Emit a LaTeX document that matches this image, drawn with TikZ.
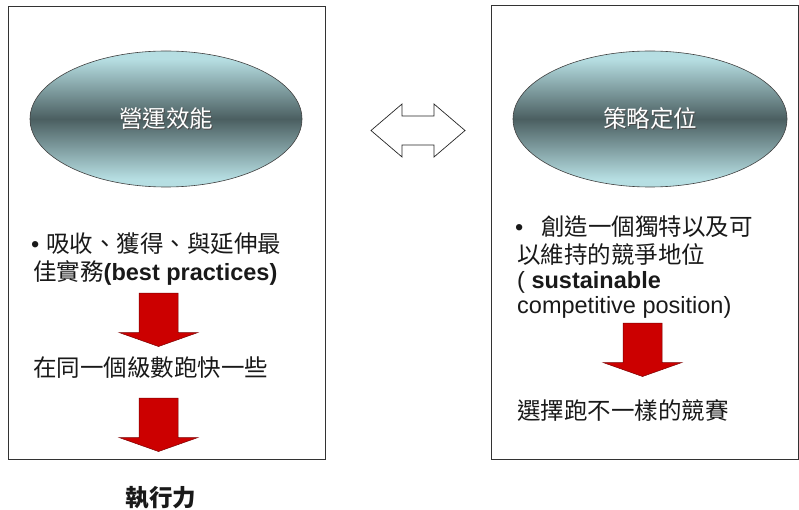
\documentclass[tikz,border=0pt]{standalone}
\usepackage{fontspec}
\setmainfont{Liberation Sans}
\newfontfamily\cjk{Noto Sans CJK TC}
\usetikzlibrary{shapes.geometric}
\definecolor{capsule}{HTML}{B6DEE2}
\definecolor{capsuledark}{HTML}{4B5F61}
\definecolor{blockred}{HTML}{CC0000}
\definecolor{blockedge}{HTML}{7A0000}
% light - dark - light vertical fade for the title capsules
\pgfdeclareverticalshading{capsulefade}{100bp}{%
  color(0bp)=(capsule); color(28bp)=(capsule); color(50bp)=(capsuledark);
  color(72bp)=(capsule); color(100bp)=(capsule)}
% white title text with a soft dark drop shadow
\newcommand\shadowtitle[1]{\rlap{\kern1.2pt\raisebox{-1.2pt}{\color{black!70}#1}}{\color{white}#1}}
\begin{document}
\begin{tikzpicture}[x=1pt,y=-1pt,
  panel/.style={draw=black!80,line width=0.8pt,rectangle,inner sep=0pt},
  capsulenode/.style={ellipse,draw=black!75,line width=0.6pt,inner sep=0pt,
    minimum width=272pt,minimum height=136pt,shading=capsulefade,
    font=\fontsize{23.5}{28}\selectfont},
  txt/.style={anchor=base west,inner sep=0pt,text=black!90,font=\fontsize{23.5}{28}\selectfont},
  flow/.style={fill=blockred,draw=blockedge,line width=0.5pt,line join=miter},
  swap/.style={fill=white,draw=black!85,line width=0.7pt,line join=miter},
  blockdown/.pic={\path[flow] (-19.5,0) -- (19.5,0) -- (19.5,39.5) -- (39.5,39.5)
      -- (0,53.5) -- (-39.5,39.5) -- (-19.5,39.5) -- cycle;}
]
\useasboundingbox (0,0) rectangle (799,510);

% two panels
\node[panel,minimum width=317pt,minimum height=453pt] (leftpanel) at (166.5,232.5) {};
\node[panel,minimum width=307pt,minimum height=454pt] (rightpanel) at (644.5,232) {};

% titles
\node[capsulenode] (ops) at (166,119) {\shadowtitle{\cjk 營運效能}};
\node[capsulenode,minimum width=274pt] (strat) at (650,119) {\shadowtitle{\cjk 策略定位}};

% two-headed block arrow between the panels
\path[swap] (371,130.5) -- (402,104) -- (402,116) -- (434,116) -- (434,104)
  -- (465,130.5) -- (434,157) -- (434,145) -- (402,145) -- (402,157) -- cycle;

% left column
\node[txt] (l1) at (31,252) {•\hspace{7pt}{\cjk 吸收、獲得、與延伸最}};
\node[txt] (l2) at (33,280) {{\cjk 佳實務}\textbf{(best practices)}};
\pic at (158.5,293) {blockdown};
\node[txt] (l3) at (33,376) {\cjk 在同一個級數跑快一些};
\pic at (158.5,398) {blockdown};
\node[txt,anchor=base,font=\fontsize{23.5}{28}\selectfont\bfseries] (exec) at (161,506) {\cjk\bfseries 執行力};

% right column
\node[txt] (r1) at (515,236) {•\hspace{18pt}{\cjk 創造一個獨特以及可}};
\node[txt] (r2) at (517,263) {\cjk 以維持的競爭地位};
\node[txt] (r3) at (517,288) {( \textbf{sustainable}};
\node[txt] (r4) at (517,313) {competitive position)};
\pic at (642.5,323) {blockdown};
\node[txt] (r5) at (517,419) {\cjk 選擇跑不一樣的競賽};
\end{tikzpicture}
\end{document}
